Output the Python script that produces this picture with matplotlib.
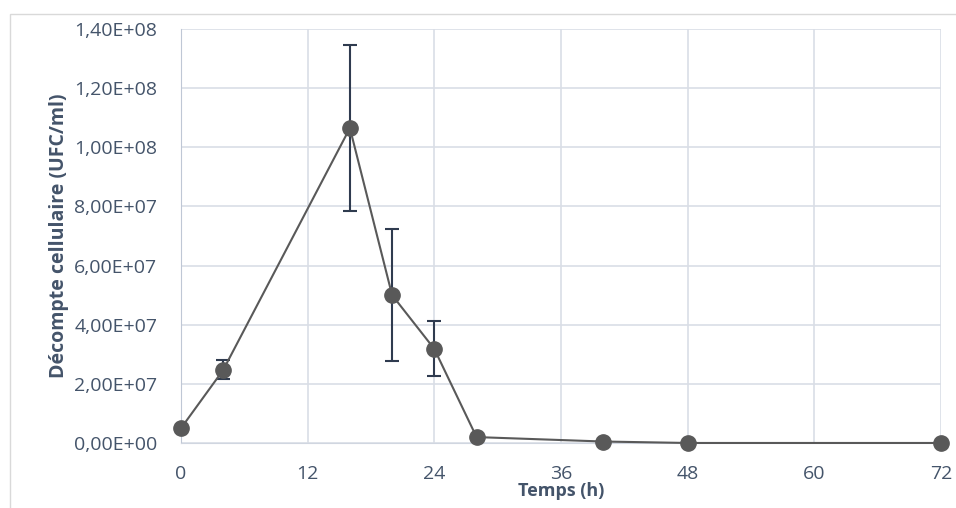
import matplotlib.pyplot as plt
from matplotlib.ticker import FuncFormatter, MultipleLocator
from matplotlib.patches import Rectangle

# données
temps = [0, 4, 16, 20, 24, 28, 40, 48, 72]
ufc = [5.0e6, 2.47e7, 1.065e8, 5.0e7, 3.18e7, 2.0e6, 5.0e5, 1.0e4, 1.0e4]
erreur = [0, 3.2e6, 2.82e7, 2.23e7, 9.3e6, 0, 0, 0, 0]

txt = '#44546A'

plt.rcParams['font.family'] = ['Open Sans', 'DejaVu Sans']

fig = plt.figure(figsize=(9.56, 5.08), dpi=100)
fig.patches.append(Rectangle((10/956, -0.1), 1.2, 1 - 14/508 + 0.1,
                             transform=fig.transFigure, fill=False,
                             edgecolor='#D9D9D9', linewidth=1))
ax = fig.add_axes([181/956, 1 - 443/508, 760/956, 414/508])

ax.errorbar(temps, ufc, yerr=erreur, fmt='none', ecolor='#2F3B4F',
            elinewidth=1.5, capsize=5, capthick=1.5, zorder=2)
ax.plot(temps, ufc, color='#595959', linewidth=1.5, marker='o',
        markersize=11, markerfacecolor='#595959', markeredgecolor='#595959',
        zorder=3, clip_on=False)

ax.set_xlim(0, 72)
ax.set_ylim(0, 1.4e8)
ax.xaxis.set_major_locator(MultipleLocator(12))
ax.yaxis.set_major_locator(MultipleLocator(2e7))
ax.yaxis.set_major_formatter(FuncFormatter(lambda v, p: f'{v:.2E}'.replace('.', ',')))

ax.grid(True, color='#D9DEE6', linewidth=1.2)
ax.set_axisbelow(True)
for s in ['top', 'right']:
    ax.spines[s].set_visible(False)
ax.spines['left'].set_color('#BFC7D5')
ax.spines['bottom'].set_color('#D0D6E0')
ax.tick_params(length=0, labelsize=14, colors=txt)
ax.tick_params(axis='x', pad=16)
ax.tick_params(axis='y', pad=17)

ax.set_xlabel('Temps (h)', fontsize=13, fontweight='bold', color=txt, labelpad=-1)
ax.set_ylabel('Décompte cellulaire (UFC/ml)', fontsize=14, fontweight='bold',
              color=txt, labelpad=4)

fig.savefig('out.png', dpi=100)
